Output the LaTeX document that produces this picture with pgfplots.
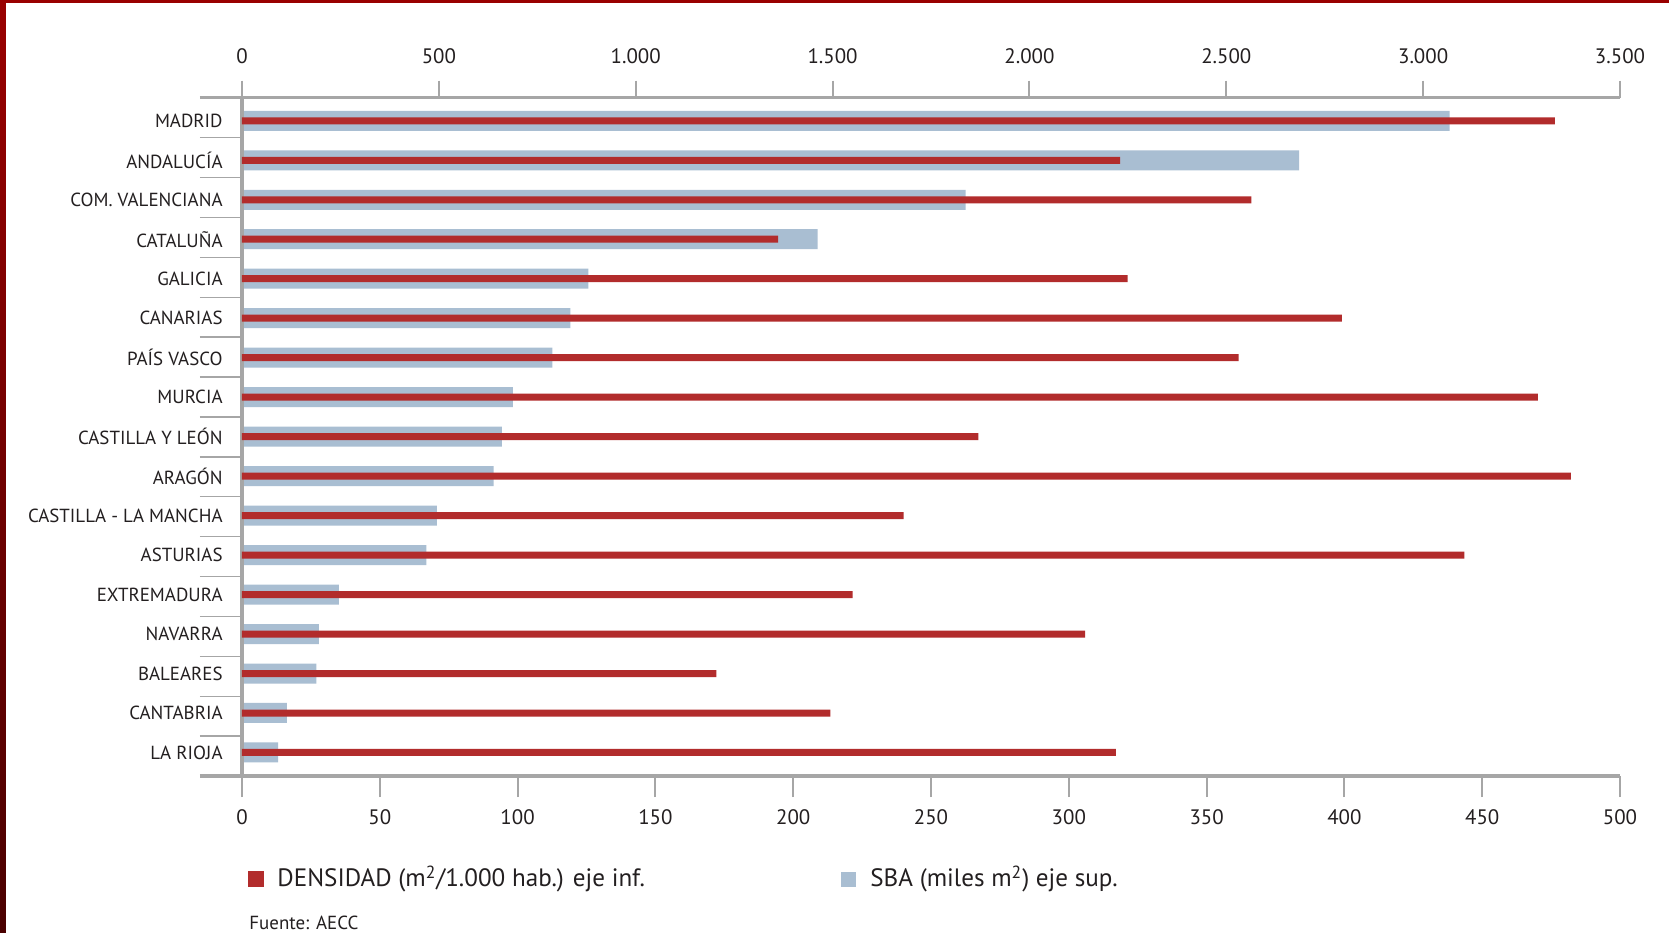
\documentclass[border=0pt]{standalone}
\usepackage{pgfplots}
\pgfplotsset{compat=1.18}
\usepackage{fontspec}
\setmainfont{PT Sans}

\definecolor{densred}{HTML}{B22C2C}
\definecolor{sbablue}{HTML}{A9BED2}
\definecolor{axgray}{HTML}{A6A6A6}
\definecolor{txt}{HTML}{231F20}
\definecolor{framered}{HTML}{990000}
\definecolor{framedark}{HTML}{4A0000}

\pgfplotsset{
  regionaxis/.style={
    scale only axis, width=689bp, height=339.15bp,
    at={(0,0)}, anchor=south west,
    ymin=-0.585, ymax=16.596, y dir=reverse,
    tick align=outside,
    axis line style={draw=axgray, line width=1.6bp},
    major tick style={draw=axgray, line width=1bp},
    minor tick style={draw=axgray, line width=0.7bp},
    tick label style={text=txt},
    xticklabel style={font=\fontsize{10.5}{12}\selectfont},
    xbar,
  },
}

\begin{document}
\begin{tikzpicture}
\useasboundingbox (-121bp,-78.5bp) rectangle (713.5bp,388bp);
\fill[white] (-121bp,-78.5bp) rectangle (713.5bp,388bp);

% SBA (miles m2), upper axis
\begin{axis}[regionaxis,
  xmin=0, xmax=3500,
  axis x line*=top, axis y line=none,
  major tick length=8.5bp,
  xtick={0,500,...,3500},
  xticklabels={0,500,1.000,1.500,2.000,2.500,3.000,3.500},
  xticklabel style={yshift=4.8bp},
  ytick=\empty,
  bar width=10bp]
\addplot[draw=none, fill=sbablue] coordinates {
  (3067,0) (2685,1) (1838,2) (1462,3) (880,4) (834,5) (788,6) (688,7)
  (660,8) (639,9) (495,10) (468,11) (246,12) (195,13) (189,14) (114,15) (92,16)};
\end{axis}

% DENSIDAD (m2/1.000 hab.), lower axis
\begin{axis}[regionaxis,
  xmin=0, xmax=500,
  axis x line*=bottom, axis y line*=left,
  major tick length=10.5bp,
  minor tick length=21bp,
  xtick={0,50,...,500},
  xticklabels={0,50,100,150,200,250,300,350,400,450,500},
  xticklabel style={yshift=-2.7bp},
  ytick={0,...,16},
  major y tick style={draw=none},
  yticklabel style={font=\fontsize{9.5}{11}\selectfont, anchor=east, inner sep=0pt, xshift=1bp},
  yticklabels={MADRID,ANDALUCÍA,COM. VALENCIANA,CATALUÑA,GALICIA,CANARIAS,PAÍS VASCO,MURCIA,CASTILLA Y LEÓN,ARAGÓN,CASTILLA - LA MANCHA,ASTURIAS,EXTREMADURA,NAVARRA,BALEARES,CANTABRIA,LA RIOJA},
  minor ytick={0.42559,1.43623,2.44687,3.45751,4.46815,5.47879,6.48943,7.50007,8.51071,9.52135,10.53199,11.54263,12.55327,13.56391,14.57455,15.58519},
  extra y ticks={-0.585,16.596},
  extra y tick labels={},
  extra y tick style={major tick length=21bp, major y tick style={draw=axgray, line width=1.6bp}},
  bar width=3.5bp]
\addplot[draw=none, fill=densred] coordinates {
  (476.4,0) (318.6,1) (366.2,2) (194.5,3) (321.3,4) (399.1,5) (361.6,6) (470.2,7)
  (267.2,8) (482.2,9) (240.1,10) (443.5,11) (221.6,12) (305.9,13) (172.1,14) (213.5,15) (317.1,16)};
\end{axis}

% legend
\fill[densred] (3bp,-47.5bp) rectangle (11bp,-55.5bp);
\node[anchor=west, inner sep=0pt, text=txt, font=\fontsize{12.6}{15}\selectfont] at (17.5bp,-51.5bp)
  {DENSIDAD (m\textsuperscript{2}/1.000 hab.) eje inf.};
\fill[sbablue] (299.5bp,-48bp) rectangle (307bp,-55.5bp);
\node[anchor=west, inner sep=0pt, text=txt, font=\fontsize{12.6}{15}\selectfont] at (314bp,-51.5bp)
  {SBA (miles m\textsuperscript{2}) eje sup.};
\node[anchor=base west, inner sep=0pt, text=txt, font=\fontsize{9.5}{11}\selectfont] at (3.5bp,-76.5bp)
  {Fuente: AECC};

% page frame
\fill[framered] (-121bp,386.3bp) rectangle (713.5bp,388bp);
\shade[top color=framered, bottom color=framedark] (-121bp,-78.5bp) rectangle (-118bp,388bp);
\end{tikzpicture}
\end{document}
